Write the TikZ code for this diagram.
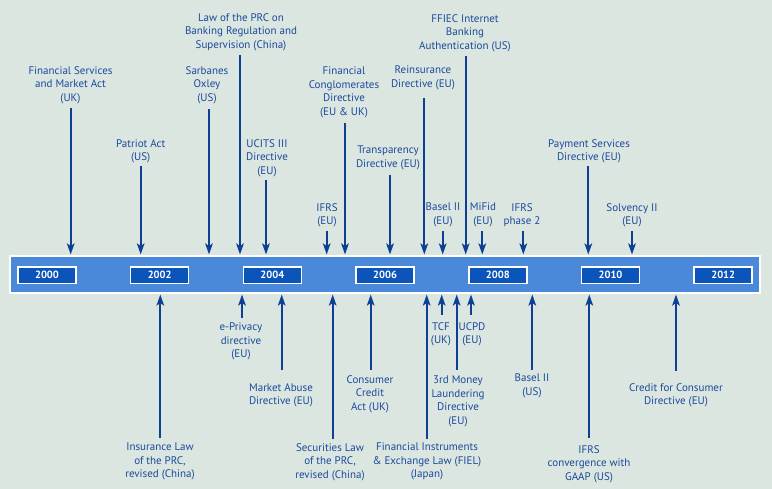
\documentclass[tikz,border=0pt]{standalone}
\usepackage{fontspec}
\setmainfont{PT Sans}
\usetikzlibrary{arrows.meta}
\definecolor{bgc}{HTML}{DCE6E0}
\definecolor{txtc}{HTML}{1A4A9C}
\definecolor{arrc}{HTML}{0D3F94}
\definecolor{bandc}{HTML}{4A88DA}
\definecolor{yearc}{HTML}{0B55BA}
\tikzset{
  lbl/.style={anchor=north, inner sep=0pt, align=center, text=txtc,
    font=\fontsize{11}{13.5}\selectfont},
  arr/.style={draw=arrc, line width=2pt, -{Stealth[length=11pt,width=7.5pt,inset=2.5pt]}},
  yearbox/.style={draw=white, line width=1.5pt, fill=yearc, minimum width=58pt,
    minimum height=16.5pt, inner sep=0pt, text=white, font=\fontsize{10.5}{12}\selectfont\bfseries},
}
\newcommand{\TopEv}[6]{%
  \node[lbl] (#1) at (#4,#5-4) {#6};
  \coordinate (#1-s) at (#2,#3);
  \coordinate (#1-t) at (#2,254.5);
  \draw[arr] (#1-s) -- (#1-t);}
\newcommand{\BotEv}[6]{%
  \node[lbl] (#1) at (#4,#5-4) {#6};
  \coordinate (#1-s) at (#2,#3);
  \coordinate (#1-t) at (#2,294.5);
  \draw[arr] (#1-s) -- (#1-t);}
\begin{document}
\begin{tikzpicture}[x=1pt,y=-1pt]
\fill[bgc] (0,0) rectangle (772,489);
\useasboundingbox (0,0) rectangle (772,489);
% band
\node[draw=white, line width=1.5pt, fill=bandc, minimum width=750pt, minimum height=37pt, inner sep=0pt] (band) at (385,274.5) {};
\foreach \yr/\xx in {2000/47,2002/159.7,2004/272.4,2006/385.1,2008/497.8,2010/610.5,2012/723.2}{
  \node[yearbox] (y\yr) at (\xx,275.3) {\yr};
}
% top events
\TopEv{fsma}{70.7}{108}{70.5}{70}{Financial Services\\and Market Act\\(UK)}
\TopEv{patriot}{140.7}{166}{140.7}{143}{Patriot Act\\(US)}
\TopEv{sox}{209}{109}{207}{70}{Sarbanes\\Oxley\\(US)}
\TopEv{prc}{240}{55}{241}{17}{Law of the PRC on\\Banking Regulation and\\Supervision (China)}
\TopEv{ucits}{266}{180}{267}{143}{UCITS III\\Directive\\(EU)}
\TopEv{ifrs}{326.7}{231}{327}{207}{IFRS\\(EU)}
\TopEv{fcd}{345}{123}{344}{71}{Financial\\Conglomerates\\Directive\\(EU \& UK)}
\TopEv{trans}{390}{175}{388}{150}{Transparency\\Directive (EU)}
\TopEv{reins}{424.3}{98}{423}{70}{Reinsurance\\Directive (EU)}
\TopEv{baseleu}{442.7}{231}{443}{207}{Basel II\\(EU)}
\TopEv{ffiec}{465.7}{56}{465}{18}{FFIEC Internet\\Banking\\Authentication (US)}
\TopEv{mifid}{482.3}{231}{483}{207}{MiFid\\(EU)}
\TopEv{ifrstwo}{523.3}{231}{522}{207}{IFRS\\phase 2}
\TopEv{psd}{588.3}{166}{589}{143}{Payment Services\\Directive (EU)}
\TopEv{solv}{632}{231}{632}{207}{Solvency II\\(EU)}
% bottom events
\BotEv{ins}{160.3}{438}{160}{447}{Insurance Law\\of the PRC,\\revised (China)}
\BotEv{epriv}{242}{318}{241}{327}{e-Privacy\\directive\\(EU)}
\BotEv{mad}{281.7}{370}{281}{387}{Market Abuse\\Directive (EU)}
\BotEv{sec}{332.7}{439}{330}{447}{Securities Law\\of the PRC,\\revised (China)}
\BotEv{cca}{370.7}{370}{370}{379}{Consumer\\Credit\\Act (UK)}
\BotEv{fiel}{426.7}{439}{427}{447}{Financial Instruments\\\& Exchange Law (FIEL)\\(Japan)}
\BotEv{tcf}{441.7}{315}{441}{326}{TCF\\(UK)}
\BotEv{mlaund}{456.7}{370}{458}{380}{3rd Money\\Laundering\\Directive\\(EU)}
\BotEv{ucpd}{471}{315}{472}{326}{UCPD\\(EU)}
\BotEv{baselus}{532.3}{370}{532}{378}{Basel II\\(US)}
\BotEv{ifrsc}{589.3}{438}{589}{449}{IFRS\\convergence with\\GAAP (US)}
\BotEv{ccd}{676}{371}{676}{387}{Credit for Consumer\\Directive (EU)}
\end{tikzpicture}
\end{document}
